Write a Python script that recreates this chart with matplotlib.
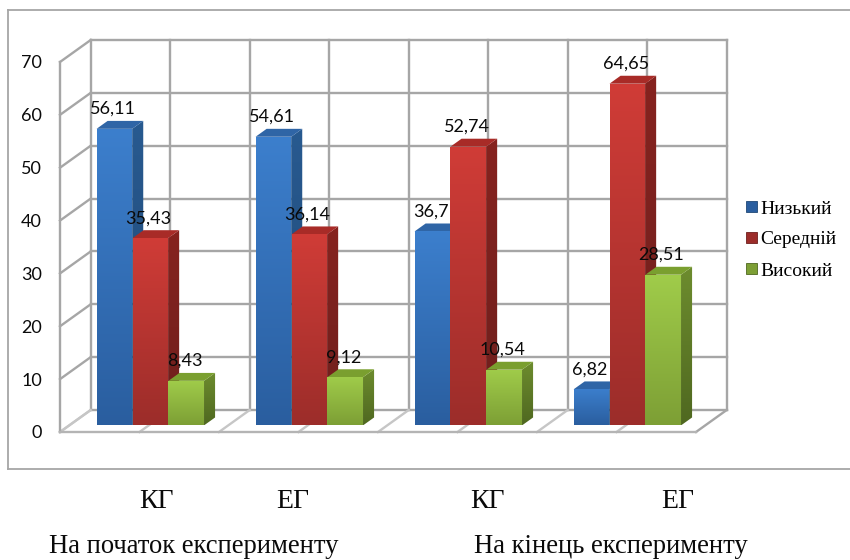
import numpy as np
import matplotlib
matplotlib.use("Agg")
import matplotlib.pyplot as plt
from matplotlib.colors import LinearSegmentedColormap
from matplotlib.lines import Line2D
from matplotlib.patches import Polygon, Patch

groups = ["КГ", "ЕГ", "КГ", "ЕГ"]
periods = ["На початок експерименту", "На кінець експерименту"]
series = ["Низький", "Середній", "Високий"]
low = [56.11, 54.61, 36.7, 6.82]
mid = [35.43, 36.14, 52.74, 64.65]
high = [8.43, 9.12, 10.54, 28.51]
value_text_low = ["56,11", "54,61", "36,7", "6,82"]
value_text_mid = ["35,43", "36,14", "52,74", "64,65"]
value_text_high = ["8,43", "9,12", "10,54", "28,51"]
yticks = [0, 10, 20, 30, 40, 50, 60, 70]

W, H = 850, 560
fig = plt.figure(figsize=(W / 100, H / 100), dpi=100, facecolor="white")

# Axes: front plane x 0..4 spans 60..696 px, v 0..70 spans 432..62 px
PX_X = 636 / 4
PX_V = 370 / 70
DX = 30.7 / PX_X   # depth shift in category units
DV = 22.0 / PX_V   # depth shift in value units
ax = fig.add_axes([60 / W, (H - 432) / H, (4 + DX) * PX_X / W, (70 + DV) * PX_V / H])
ax.set_xlim(0, 4 + DX)
ax.set_ylim(0, 70 + DV)
ax.patch.set_alpha(0)
for s in ax.spines.values():
    s.set_visible(False)
ax.set_xticks([])
ax.set_yticks(yticks)
ax.set_yticklabels([str(t) for t in yticks], family="Lato", fontsize=13, color="#0a0a0a")
ax.tick_params(axis="y", length=0, pad=13)


def P(x, v, d=0.0):
    return x + d * DX, v + d * DV


GRID = "#a6a6a6"
FLOOR = "#c6c6c6"
LW = 1.7


def seg(p, q, color=GRID, lw=LW, z=1):
    ax.plot([p[0], q[0]], [p[1], q[1]], color=color, lw=lw, zorder=z,
            solid_capstyle="projecting", clip_on=False)


# walls
for t in yticks:
    seg(P(0, t, 1), P(4, t, 1))
    seg(P(0, t, 0), P(0, t, 1), color=GRID if t else FLOOR)
for k in np.arange(0, 4.5, 0.5):
    seg(P(k, 0, 1), P(k, 70, 1))
# floor
for k in np.arange(0, 4.5, 1.0):
    seg(P(k, 0, 0), P(k, 0, 1), color=FLOOR if k < 4 else GRID)
for k in np.arange(0.5, 4.0, 1.0):
    seg(P(k, 0, 0), P(k, 0, 1), color=FLOOR)
seg(P(0, 70, 0), P(0, 0, 0))
seg(P(0, 0, 0), P(4, 0, 0), color="#b4b4b4", z=1.5)

# Bars
D0, D1 = 0.30, 0.66
BW = 35.6 / PX_X
palette = [
    dict(front=("#3c7fcd", "#2a5e9f"), side=("#285a90", "#1f4876"), top="#2f65a6"),
    dict(front=("#d03c37", "#9c2d2a"), side=("#86231f", "#6e1f1d"), top="#a82b27"),
    dict(front=("#a0cc4a", "#7d9f35"), side=("#6d8c2e", "#4f6820"), top="#7a9f2f"),
]


def grad(poly_pts, colors, z):
    cmap = LinearSegmentedColormap.from_list("g", [colors[0], colors[1]])
    xs = [p[0] for p in poly_pts]
    ys = [p[1] for p in poly_pts]
    poly = Polygon(poly_pts, closed=True, fc="none", ec="none", transform=ax.transData)
    ax.add_patch(poly)
    im = ax.imshow(np.linspace(0, 1, 128).reshape(-1, 1), cmap=cmap, aspect="auto",
                   extent=(min(xs), max(xs), min(ys), max(ys)), origin="upper",
                   zorder=z, interpolation="bilinear")
    im.set_clip_path(poly)


def bar(cx, v, c, z):
    x0, x1 = cx - BW / 2, cx + BW / 2
    grad([P(x1, 0, D0), P(x1, 0, D1), P(x1, v, D1), P(x1, v, D0)], c["side"], z)
    ax.add_patch(Polygon([P(x0, v, D0), P(x1, v, D0), P(x1, v, D1), P(x0, v, D1)],
                         closed=True, fc=c["top"], ec="none", zorder=z + 0.01))
    grad([P(x0, 0, D0), P(x1, 0, D0), P(x1, v, D0), P(x0, v, D0)], c["front"], z + 0.02)


for g in range(len(groups)):
    center = g + 0.51
    for j, (vals, txt) in enumerate(zip([low, mid, high],
                                        [value_text_low, value_text_mid, value_text_high])):
        cx = center + (j - 1) * (BW + 0.002)
        z = 3 + g + j * 0.1
        bar(cx, vals[g], palette[j], z)
        ax.annotate(txt[g], xy=P(cx, vals[g], D0), xytext=(-1.2, 14.4),
                    textcoords="offset points", ha="center", va="center",
                    family="Lato", fontsize=13, color="#0a0a0a", zorder=20)

ax.set_xlim(0, 4 + DX)
ax.set_ylim(0, 70 + DV)

# Legend
handles = [Patch(fc=palette[i]["front"][1], ec=palette[i]["side"][1], lw=0.6, label=series[i])
           for i in range(3)]
leg = fig.legend(handles=handles, loc="center left", bbox_to_anchor=(746 / W, (H - 240) / H),
                 frameon=False, prop={"family": "Liberation Serif", "size": 14},
                 handlelength=0.55, handleheight=0.55, handletextpad=0.2,
                 labelspacing=0.72, borderpad=0, borderaxespad=0)

# Outer frame
frame = dict(color="#a6a6a6", lw=1.3, transform=fig.transFigure)
x0f, x1f = 7.7 / W, 1.0
y0f, y1f = 1 - 469 / H, 1 - 10 / H
fig.add_artist(Line2D([x0f, x1f], [y1f, y1f], **frame))
fig.add_artist(Line2D([x0f, x1f], [y0f, y0f], **frame))
fig.add_artist(Line2D([x0f, x0f], [y0f, y1f], **frame))

# Text below the chart
serif = dict(family="Liberation Serif", color="#0a0a0a", ha="center", va="center",
             transform=fig.transFigure)
for name, xp in zip(groups, [156, 293, 487, 678]):
    fig.text(xp / W, 1 - 501.5 / H, name, fontsize=20, **serif)
for name, xp in zip(periods, [194, 611]):
    fig.text(xp / W, 1 - 546.5 / H, name, fontsize=19.2, **serif)

fig.savefig("out.png", dpi=100)
